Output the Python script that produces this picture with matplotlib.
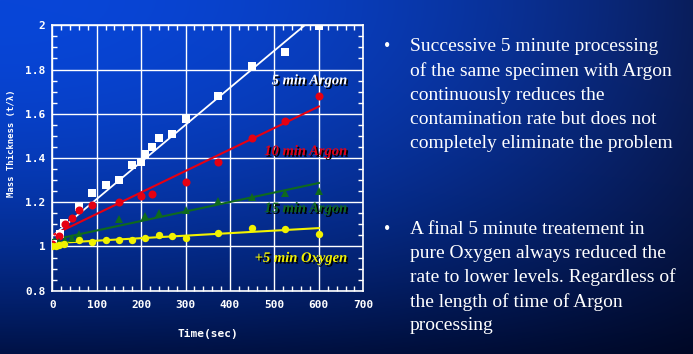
import numpy as np
import matplotlib
matplotlib.use("Agg")
import matplotlib.pyplot as plt
import matplotlib.patheffects as pe
from matplotlib.ticker import MultipleLocator, FormatStrFormatter

# ---- data ----
time_5ar = [2, 17, 27, 60, 90, 121, 150, 180, 200, 209, 225, 240, 270, 300, 374, 450, 524, 600]
thick_5ar = [1.01, 1.055, 1.107, 1.18, 1.24, 1.28, 1.30, 1.37, 1.38, 1.42, 1.45, 1.49,
             1.51, 1.576, 1.68, 1.815, 1.878, 1.997]

time_10ar = [0, 14, 29, 44, 60, 90, 150, 200, 225, 300, 374, 450, 524, 600]
thick_10ar = [1.01, 1.047, 1.10, 1.13, 1.166, 1.187, 1.20, 1.227, 1.238, 1.292, 1.382,
              1.49, 1.568, 1.68]

time_15ar = [0, 15, 29, 45, 60, 150, 209, 240, 300, 374, 450, 524, 600]
thick_15ar = [1.0, 1.02, 1.03, 1.04, 1.057, 1.122, 1.14, 1.152, 1.165, 1.204, 1.223,
              1.243, 1.25]

time_ox = [0, 8, 16, 27, 60, 90, 120, 150, 180, 209, 240, 270, 300, 374, 450, 524, 600]
thick_ox = [1.0, 1.0, 1.005, 1.01, 1.03, 1.02, 1.03, 1.03, 1.027, 1.04, 1.052, 1.047,
            1.04, 1.06, 1.082, 1.077, 1.057]

# fitted trend lines (end points)
fit_5ar_t, fit_5ar_v = [5, 568], [1.055, 2.0]
fit_10ar_t, fit_10ar_v = [5, 600], [1.055, 1.633]
fit_15ar_t, fit_15ar_v = [2, 600], [1.03, 1.287]
fit_ox_t, fit_ox_v = [2, 600], [1.015, 1.083]

labels = ["5 min Argon", "10 min Argon", "15 min Argon", "+5 min Oxygen"]
label_y = [1.749, 1.429, 1.171, 0.946]

bullet1 = ["Successive 5 minute processing",
           "of the same specimen with Argon",
           "continuously reduces the",
           "contamination rate but does not",
           "completely eliminate the problem"]
bullet2 = ["A final 5 minute treatement in",
           "pure Oxygen always reduced the",
           "rate to lower levels. Regardless of",
           "the length of time of Argon",
           "processing"]

W, H = 693, 354
fig = plt.figure(figsize=(W / 100, H / 100), dpi=100)

# slide background gradient
bg = fig.add_axes([0, 0, 1, 1])
yy, xx = np.mgrid[0:1:200j, 0:1:400j]
tl = np.array([8, 70, 216]) / 255
tr = np.array([10, 30, 92]) / 255
bl = np.array([0, 18, 70]) / 255
br = np.array([0, 8, 38]) / 255
wx = (xx ** 2.0)[..., None]
wy = (yy ** 1.9)[..., None]
img = (tl * (1 - wx) + tr * wx) * (1 - wy) + (bl * (1 - wx) + br * wx) * wy
bg.imshow(img, aspect="auto", extent=[0, 1, 0, 1], origin="upper")
bg.set_axis_off()

ax = fig.add_axes([52.3 / W, 1 - 290.7 / H, 311 / W, 265.4 / H])
ax.patch.set_alpha(0)
ax.set_xlim(0, 700)
ax.set_ylim(0.8, 2.0)

white, red, green, yellow = "white", "#e60012", "#0f6a1e", "#f2f200"

ax.plot(fit_5ar_t, fit_5ar_v, color=white, lw=1.3, zorder=3)
ax.plot(fit_10ar_t, fit_10ar_v, color=red, lw=1.5, zorder=3)
ax.plot(fit_15ar_t, fit_15ar_v, color=green, lw=1.5, zorder=3)
ax.plot(fit_ox_t, fit_ox_v, color=yellow, lw=1.5, zorder=3)

ax.plot(time_5ar, thick_5ar, "s", color=white, ms=5.5, mew=0, zorder=4)
ax.plot(time_10ar, thick_10ar, "o", color=red, ms=5.8, mew=0, zorder=5)
ax.plot(time_15ar, thick_15ar, "^", color=green, ms=6, mew=0, zorder=5)
ax.plot(time_ox, thick_ox, "o", color=yellow, ms=5.3, mew=0, zorder=6)

shadow = [pe.withSimplePatchShadow(offset=(1.2, -1.2), shadow_rgbFace="black", alpha=1)]
for txt, y, c in zip(labels, label_y, [white, red, green, yellow]):
    ax.text(665, y, txt, color=c, ha="right", va="center", fontsize=10.5,
            family="Liberation Serif", style="italic", fontweight="bold",
            path_effects=shadow, zorder=7)

ax.xaxis.set_major_locator(MultipleLocator(100))
ax.xaxis.set_minor_locator(MultipleLocator(20))
ax.yaxis.set_major_locator(MultipleLocator(0.2))
ax.yaxis.set_minor_locator(MultipleLocator(0.05))
ax.yaxis.set_major_formatter(FormatStrFormatter("%g"))
ax.grid(True, which="major", color="white", lw=1)
for s in ax.spines.values():
    s.set_color("white")
    s.set_linewidth(1.2)
ax.tick_params(which="both", direction="in", color="white", top=True, right=True,
               labelcolor="white", width=1)
ax.tick_params(which="major", length=0, pad=5)
ax.tick_params(axis="x", which="major", pad=7)
ax.tick_params(which="minor", length=3.5)
for lab in ax.get_xticklabels() + ax.get_yticklabels():
    lab.set_family("DejaVu Sans Mono")
    lab.set_fontweight("bold")
    lab.set_fontsize(8)

ax.set_xlabel("Time(sec)", color="white", family="DejaVu Sans Mono", fontweight="bold",
              fontsize=8, labelpad=13)
ax.set_ylabel("Mass Thickness (t/\u03bb)", color="white", family="DejaVu Sans Mono",
              fontweight="bold", fontsize=6.5)
ax.yaxis.set_label_coords((16 - 52.3) / 311, (290.7 - 143) / 265.4)

# bullet text on the right
line_h = 24.2
for block, y0 in [(bullet1, 46.7), (bullet2, 229)]:
    fig.text(386.7 / W, 1 - y0 / H, "\u2022", color="white", fontsize=13,
             family="Liberation Serif", ha="center", va="center")
    for i, line in enumerate(block):
        fig.text(410 / W, 1 - (y0 + i * line_h) / H, line, color="white", fontsize=14,
                 family="Liberation Serif", ha="left", va="center")

fig.savefig("out.png", dpi=100)
